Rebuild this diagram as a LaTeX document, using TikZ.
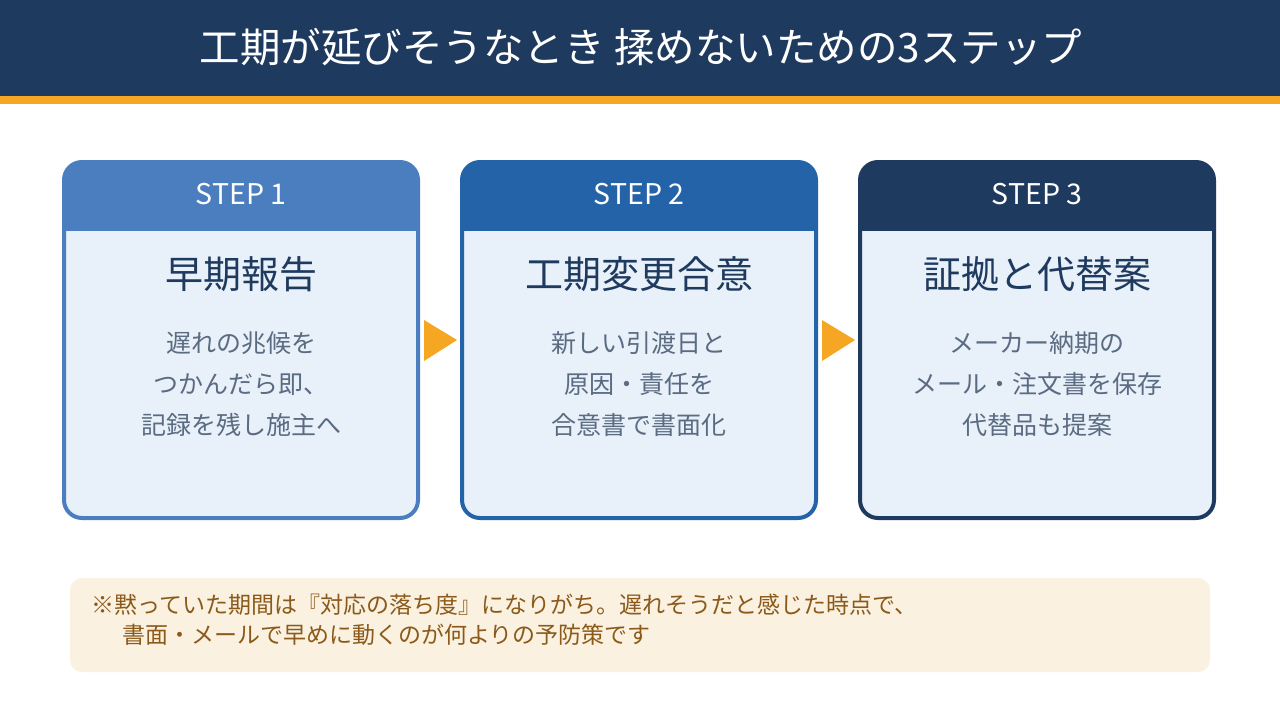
\documentclass[tikz,border=0pt]{standalone}
\usepackage{fontspec}
\setmainfont{Noto Sans CJK JP}
\definecolor{navy}{HTML}{1F3A5F}
\definecolor{accent}{HTML}{F5A623}
\definecolor{stepA}{HTML}{4A7EBF}
\definecolor{stepB}{HTML}{2563A8}
\definecolor{stepC}{HTML}{1F3A5F}
\definecolor{bodyc}{HTML}{E8F0F9}
\definecolor{bodytext}{HTML}{5A6B82}
\definecolor{notefill}{HTML}{FAF1E0}
\definecolor{notetext}{HTML}{8B5A1A}
\tikzset{
  steplabel/.style={text=white, font=\fontsize{28.5}{31}\selectfont, inner sep=0},
  steptitle/.style={text=navy, font=\fontsize{38}{42}\selectfont, inner sep=0},
  stepbody/.style={text=bodytext, font=\fontsize{25}{41}\selectfont, align=center, inner sep=0},
  chevron/.style={fill=accent},
  boxframe/.style={line width=4pt, rounded corners=18pt},
}
\begin{document}
\begin{tikzpicture}[x=1pt,y=-1pt]
\useasboundingbox (0,0) rectangle (1280,720);
\fill[white] (0,0) rectangle (1280,720);
\fill[navy] (0,0) rectangle (1280,96);
\fill[accent] (0,96) rectangle (1280,104);
\node[text=white, font=\fontsize{40.5}{44}\selectfont, inner sep=0] (title) at (641,47) {工期が延びそうなとき 揉めないための3ステップ};

\foreach \i/\cx/\col/\lab/\ttl/\txt in {
  1/241/stepA/STEP 1/早期報告/{遅れの兆候を\\つかんだら即、\\記録を残し施主へ},
  2/639/stepB/STEP 2/工期変更合意/{新しい引渡日と\\原因・責任を\\合意書で書面化},
  3/1037/stepC/STEP 3/証拠と代替案/{メーカー納期の\\メール・注文書を保存\\代替品も提案}}{
  \pgfmathsetmacro{\xl}{\cx-177}
  \pgfmathsetmacro{\xr}{\cx+177}
  \fill[bodyc, rounded corners=18pt] (\xl,162) rectangle (\xr,518);
  \begin{scope}
    \clip[rounded corners=18pt] (\xl,162) rectangle (\xr,518);
    \fill[\col] (\xl,150) rectangle (\xr,231);
  \end{scope}
  \draw[\col, boxframe] (\xl,162) rectangle (\xr,518);
  \node[steplabel] (lab\i) at (\cx,194) {\lab};
  \node[steptitle] (ttl\i) at (\cx,274) {\ttl};
  \node[stepbody] (txt\i) at (\cx,384) {\txt};
}
\fill[chevron] (424,320) -- (457,340) -- (424,361) -- cycle;
\fill[chevron] (822,320) -- (855,340) -- (822,361) -- cycle;

\fill[notefill, rounded corners=12pt] (70,578) rectangle (1210,672);
\node[text=notetext, font=\fontsize{23}{29.5}\selectfont, align=left, anchor=north west, inner sep=0] (note) at (91,594) {※黙っていた期間は『対応の落ち度』になりがち。遅れそうだと感じた時点で、\\\hspace*{31pt}書面・メールで早めに動くのが何よりの予防策です};
\end{tikzpicture}
\end{document}
